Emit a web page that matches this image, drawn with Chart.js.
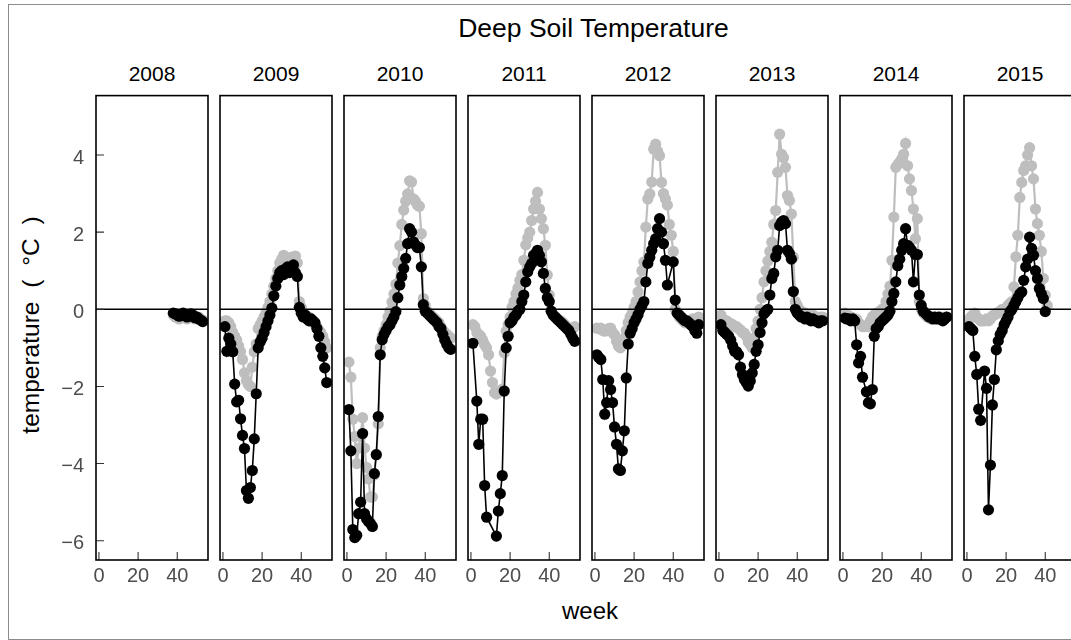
<!DOCTYPE html>
<html>
<head>
<meta charset="utf-8">
<title>Deep Soil Temperature</title>
<script src="https://cdn.jsdelivr.net/npm/chart.js@4.4.1/dist/chart.umd.min.js"></script>
<style>
  html, body { margin: 0; padding: 0; background: #fff; }
  body { width: 1071px; height: 640px; position: relative; overflow: hidden;
         font-family: "Liberation Sans", Arial, Helvetica, sans-serif; }
  .frame { position: absolute; left: 8px; top: 4px; width: 1100px; height: 634px; border: 1px solid #8c8c8c; }
  canvas { position: absolute; }
  .txt { position: absolute; white-space: nowrap; line-height: 1; color: #000; }
</style>
</head>
<body>
<div class="frame"></div>
<div class="txt" style="left:593.5px; top:15px; font-size:26.5px; transform:translateX(-50%);">Deep Soil Temperature</div>
<div class="txt" style="left:590px; top:599px; font-size:24px; transform:translateX(-50%);">week</div>
<div class="txt" style="left:31px; top:325px; font-size:24.5px; word-spacing:7px; transform:translate(-50%,-50%) rotate(-90deg);">temperature ( °C )</div>

<script>
// weekly mean deep soil temperature, two probes per year
const years = [2008, 2009, 2010, 2011, 2012, 2013, 2014, 2015];
const firstWeek = [38, 1, 1, 1, 1, 1, 1, 1];
const weekTicks = [0, 20, 40];
const tempTicks = [-6, -4, -2, 0, 2, 4];

const black2008 = [-0.10, -0.12, -0.15, -0.18, -0.14, -0.10, -0.16, -0.20, -0.18, -0.12, -0.15, -0.22, -0.20, -0.25, -0.28, -0.32];
const grey2008 = [-0.15, -0.20, -0.22, -0.25, -0.22, -0.18, -0.22, -0.25, -0.20, -0.18, -0.22, -0.25, -0.22, -0.20, -0.25, -0.28];

const black2009 = [-0.45, -1.09, -0.75, -0.9, -1.1, -1.94, -2.4, -2.36, -2.84, -3.27,
  -3.61, -4.7, -4.9, -4.62, -4.18, -3.36, -2.19, -1.0, -0.85, -0.75,
  -0.6, -0.45, -0.3, -0.15, 0.03, 0.35, 0.6, 0.8, 0.95, 1.0,
  0.9, 1.05, 1.1, 0.95, 1.0, 1.15, 0.95, 0.85, 0.05, -0.1,
  -0.2, -0.15, -0.25, -0.3, -0.25, -0.3, -0.35, -0.5, -0.7, -1.0,
  -1.22, -1.52, -1.9];
const grey2009 = [-0.3, -0.3, -0.35, -0.45, -0.6, -0.7, -0.8, -0.95, -1.1, -1.3,
  -1.65, -1.85, -1.95, -2.0, -1.5, -1.1, -0.9, -0.5, -0.4, -0.3,
  -0.2, -0.1, 0.05, 0.2, 0.4, 0.6, 0.8, 1.0, 1.2, 1.3,
  1.4, 1.35, 1.3, 1.25, 1.35, 1.3, 1.38, 1.2, 0.2, 0.05,
  -0.1, -0.15, -0.2, -0.2, -0.3, -0.3, -0.4, -0.45, -0.55, -0.6,
  -0.7, -0.85, -1.0];

const black2010 = [-2.6, -3.67, -5.71, -5.92, -5.86, -5.3, -5.0, -3.22, -5.3, -5.43,
  -5.5, -5.55, -5.63, -4.26, -3.77, -2.78, -1.18, -0.79, -0.65, -0.55,
  -0.45, -0.4, -0.3, -0.2, -0.06, 0.3, 0.63, 0.85, 1.06, 1.32,
  1.7, 2.09, 2.0, 1.75, 1.67, 1.6, 1.6, 1.1, 0.12, -0.05,
  -0.1, -0.15, -0.2, -0.25, -0.3, -0.35, -0.45, -0.5, -0.65, -0.8,
  -0.91, -1.0, -1.04];
const grey2010 = [-1.37, -1.76, -2.85, -3.3, -4.0, -3.6, -3.3, -2.81, -3.6, -4.1,
  -4.4, -4.87, -4.87, -4.3, -3.76, -2.97, -1.0, -0.7, -0.55, -0.4,
  -0.2, -0.05, 0.19, 0.4, 0.65, 1.2, 1.65, 2.2, 2.57, 2.8,
  2.99, 3.33, 3.3, 2.86, 2.8, 2.7, 2.67, 1.96, 0.28, 0.1,
  -0.05, -0.1, -0.15, -0.2, -0.25, -0.3, -0.35, -0.45, -0.55, -0.6,
  -0.65, -0.7, -0.75];

const black2011 = [-0.88, null, -2.38, -3.5, -2.85, -2.85, -4.57, -5.39, null, null,
  null, null, -5.88, -5.23, -4.78, -4.31, -2.12, -1.0, -0.7, -0.35,
  -0.3, -0.2, -0.15, -0.05, 0.0, 0.2, 0.37, 0.71, 0.97, 1.1,
  1.19, 1.4, 1.45, 1.53, 1.4, 1.23, 0.93, 0.54, 0.3, 0.2,
  -0.05, -0.15, -0.2, -0.25, -0.3, -0.35, -0.4, -0.45, -0.5, -0.55,
  -0.65, -0.75, -0.83];
const grey2011 = [-0.4, -0.45, -0.6, -0.65, -0.7, -0.8, -0.92, -1.0, -1.18, -1.6,
  -1.9, -2.16, -2.2, -2.16, -2.1, -2.07, -1.13, -0.57, -0.4, -0.2,
  0.05, 0.2, 0.4, 0.55, 0.75, 0.9, 1.27, 1.67, 1.85, 2.0,
  2.3, 2.6, 2.8, 3.03, 2.6, 2.35, 2.09, 1.66, 0.89, 0.37,
  -0.05, -0.15, -0.2, -0.25, -0.3, -0.3, -0.35, -0.4, -0.45, -0.5,
  -0.55, -0.5, -0.45];

const black2012 = [-1.18, -1.25, -1.3, -1.82, -2.72, -2.42, -1.85, -2.08, -2.42, -3.05,
  -3.5, -4.14, -4.18, -3.67, -3.15, -1.78, -0.9, -0.62, -0.5, -0.35,
  -0.25, -0.14, 0.0, 0.1, 0.2, 0.71, 1.19, 1.35, 1.53, 1.7,
  1.83, 2.09, 2.35, 2.0, 1.7, 1.27, 0.63, null, null, 1.23,
  0.24, -0.1, -0.15, -0.2, -0.25, -0.3, -0.3, -0.35, -0.4, -0.45,
  -0.55, -0.62, -0.4];
const grey2012 = [-0.49, -0.5, -0.49, -0.55, -0.57, -0.55, -0.5, -0.49, -0.6, -0.66,
  -0.83, -0.95, -1.0, -0.92, -0.75, -0.55, -0.34, -0.2, -0.1, 0.05,
  0.2, 0.45, 0.71, 1.0, 1.23, 2.13, 2.86, 2.99, 3.3, 4.15,
  4.28, 4.1, 3.98, 3.29, 3.0, 2.86, 2.7, 2.2, 1.92, 1.5,
  0.0, -0.1, -0.2, -0.25, -0.3, -0.35, -0.3, -0.35, -0.3, -0.25,
  -0.3, -0.25, -0.2];

const black2013 = [-0.4, -0.55, -0.6, -0.65, -0.7, -0.8, -0.95, -1.09, -1.1, -1.18,
  -1.5, -1.69, -1.82, -1.9, -1.99, -1.86, -1.65, -1.43, -1.09, -0.92,
  -0.6, -0.35, -0.12, -0.05, 0.0, 0.37, 0.8, 0.93, 1.36, 1.53,
  2.17, 2.26, 2.3, 2.22, 1.53, 1.45, 1.3, 0.46, 0.0, -0.1,
  -0.15, -0.2, -0.2, -0.25, -0.2, -0.25, -0.3, -0.25, -0.3, -0.3,
  -0.35, -0.3, -0.3];
const grey2013 = [-0.15, -0.25, -0.3, -0.3, -0.35, -0.37, -0.4, -0.45, -0.45, -0.5,
  -0.54, -0.6, -0.62, -0.7, -0.85, -0.92, -1.0, -0.75, -0.5, -0.3,
  0.0, 0.3, 0.71, 1.0, 1.25, 1.5, 1.74, 2.2, 2.56, 3.55,
  4.54, 4.02, 3.93, 3.68, 2.95, 2.82, 2.47, 1.35, 0.2, 0.1,
  0.0, -0.05, -0.1, -0.1, -0.15, -0.15, -0.2, -0.15, -0.2, -0.2,
  -0.25, -0.2, -0.2];

const black2014 = [-0.23, -0.25, -0.25, -0.3, -0.25, -0.3, -0.92, -1.39, -1.22, -1.76,
  null, -2.14, -2.42, -2.45, -2.08, -0.7, -0.5, -0.45, -0.35, -0.3,
  -0.25, -0.2, -0.15, -0.05, 0.2, 0.41, 0.71, 1.13, 1.3, 1.53,
  1.7, 2.09, 1.66, 1.6, 1.53, 0.71, 1.42, 1.42, 0.37, 0.1,
  -0.05, -0.1, -0.15, -0.2, -0.2, -0.25, -0.2, -0.25, -0.2, -0.25,
  -0.3, -0.25, -0.2];
const grey2014 = [-0.1, -0.15, -0.17, -0.2, -0.22, -0.25, -0.26, -0.35, -0.4, -0.45,
  -0.45, -0.42, -0.45, -0.3, -0.2, -0.15, -0.1, -0.1, -0.05, 0.0,
  0.03, 0.2, 0.4, 0.6, 1.27, 2.39, 3.68, 3.75, 3.81, 3.9,
  4.02, 4.3, 3.72, 3.38, 3.08, 2.6, 1.83, 2.35, 0.2, 0.0,
  -0.1, -0.15, -0.2, -0.2, -0.25, -0.2, -0.2, -0.25, -0.2, -0.2,
  -0.25, -0.2, -0.2];

const black2015 = [-0.45, -0.5, -0.55, -1.22, -1.69, -2.59, -2.88, null, -1.6, -2.05,
  -5.2, -4.04, -2.48, -1.82, -1.05, -0.82, -0.65, -0.55, -0.4, -0.3,
  -0.2, -0.06, 0.0, 0.1, 0.2, 0.3, 0.4, 0.45, 0.75, 1.1,
  1.3, 1.87, 1.58, 1.4, 1.0, 0.8, 0.54, 0.4, 0.28, -0.06];
const grey2015 = [-0.27, -0.2, -0.15, -0.1, -0.2, -0.25, -0.3, -0.3, -0.3, -0.25,
  -0.3, -0.25, -0.17, -0.15, -0.1, -0.1, -0.05, 0.0, 0.0, 0.03,
  0.1, 0.15, 0.2, 0.58, 1.36, 1.92, 2.9, 3.29, 3.6, 3.72,
  4.0, 4.19, 3.72, 3.38, 2.6, 2.22, 1.92, 1.5, 0.8, 0.37, 0.1];

const blackByYear = [black2008, black2009, black2010, black2011, black2012, black2013, black2014, black2015];
const greyByYear = [grey2008, grey2009, grey2010, grey2011, grey2012, grey2013, grey2014, grey2015];

// facet geometry (page pixels)
const PANEL_LEFT = 96, PANEL_STEP = 124, PANEL_W = 112;
const PANEL_TOP = 92, PANEL_BOTTOM = 560;
const Y_AXIS_W = 56, SIDE_PAD = 12, TOP_PAD = 2, X_AXIS_H = 40;

const GREY = '#bebebe';
const TICK_FONT = { family: '"Liberation Sans", Arial, sans-serif', size: 20 };

function toPoints(values, start) {
  return values.map((v, k) => ({ x: start + k, y: v }));
}

function minusSign(v) {
  return v < 0 ? '\u2212' + Math.abs(v) : String(v);
}

// border, zero line and inward ticks for each facet
const panelFrame = {
  id: 'panelFrame',
  afterDatasetsDraw(chart, args, opts) {
    const { ctx, chartArea: a, scales: { x, y } } = chart;
    ctx.save();
    const y0 = y.getPixelForValue(0);
    ctx.strokeStyle = '#000';
    ctx.lineWidth = 1.5;
    ctx.beginPath();
    ctx.moveTo(a.left, y0);
    ctx.lineTo(a.right, y0);
    ctx.stroke();

    ctx.strokeStyle = '#333';
    ctx.lineWidth = 1.1;
    ctx.beginPath();
    weekTicks.forEach(v => {
      const px = x.getPixelForValue(v);
      ctx.moveTo(px, a.bottom);
      ctx.lineTo(px, a.bottom - 8);
    });
    if (opts.yTicks) {
      tempTicks.forEach(v => {
        const py = y.getPixelForValue(v);
        ctx.moveTo(a.left, py);
        ctx.lineTo(a.left + 8, py);
      });
    }
    ctx.stroke();

    ctx.strokeStyle = '#000';
    ctx.lineWidth = 1.6;
    ctx.strokeRect(a.left, a.top, a.right - a.left, a.bottom - a.top);
    ctx.restore();
  }
};

years.forEach((year, i) => {
  const first = i === 0;
  const left = PANEL_LEFT + PANEL_STEP * i;
  const padL = first ? Y_AXIS_W : SIDE_PAD;

  // strip label
  const strip = document.createElement('div');
  strip.className = 'txt';
  strip.textContent = String(year);
  strip.style.cssText = 'left:' + (left + PANEL_W / 2) + 'px; top:63px; font-size:21px; transform:translateX(-50%);';
  document.body.appendChild(strip);

  const canvas = document.createElement('canvas');
  canvas.width = PANEL_W + padL + SIDE_PAD;
  canvas.height = PANEL_BOTTOM - PANEL_TOP + TOP_PAD + X_AXIS_H;
  canvas.style.left = (left - padL) + 'px';
  canvas.style.top = (PANEL_TOP - TOP_PAD) + 'px';
  document.body.appendChild(canvas);

  new Chart(canvas.getContext('2d'), {
    type: 'line',
    data: {
      datasets: [
        {
          data: toPoints(blackByYear[i], firstWeek[i]),
          borderColor: '#000',
          backgroundColor: '#000',
          borderWidth: 1.6,
          pointRadius: 5.6,
          pointBorderWidth: 0,
          tension: 0,
          spanGaps: true,
          clip: 0,
          order: 0
        },
        {
          data: toPoints(greyByYear[i], firstWeek[i]),
          borderColor: GREY,
          backgroundColor: GREY,
          borderWidth: 2.2,
          pointRadius: 5.6,
          pointBorderWidth: 0,
          tension: 0,
          spanGaps: true,
          clip: 0,
          order: 1
        }
      ]
    },
    options: {
      responsive: false,
      animation: false,
      events: [],
      layout: { padding: { left: first ? 0 : SIDE_PAD, right: SIDE_PAD, top: TOP_PAD, bottom: 0 } },
      plugins: {
        legend: { display: false },
        tooltip: { enabled: false },
        panelFrame: { yTicks: first }
      },
      scales: {
        x: {
          type: 'linear',
          min: -1.5,
          max: 55.7,
          grid: { display: false },
          border: { display: false },
          afterBuildTicks: s => { s.ticks = weekTicks.map(v => ({ value: v })); },
          afterFit: s => {
            s.height = X_AXIS_H;
            s.paddingLeft = 0;
            s.paddingRight = 0;
          },
          ticks: { font: TICK_FONT, color: '#4d4d4d', padding: -4, maxRotation: 0, autoSkip: false }
        },
        y: {
          type: 'linear',
          display: first,
          min: -6.5,
          max: 5.54,
          grid: { display: false },
          border: { display: false },
          afterBuildTicks: s => { s.ticks = tempTicks.map(v => ({ value: v })); },
          afterFit: s => {
            s.width = first ? Y_AXIS_W : 0;
            s.paddingTop = 0;
            s.paddingBottom = 0;
          },
          ticks: { font: TICK_FONT, color: '#4d4d4d', padding: 4, labelOffset: 3, callback: minusSign }
        }
      }
    },
    plugins: [panelFrame]
  });
});
</script>
</body>
</html>
